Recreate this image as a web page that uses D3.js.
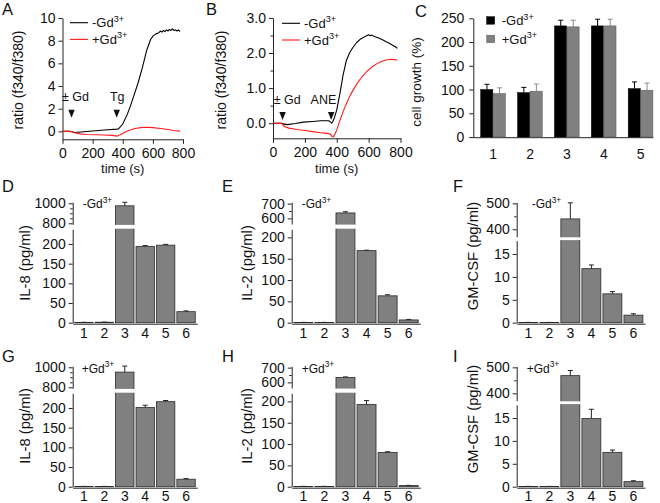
<!DOCTYPE html>
<html lang="en">
<head>
<meta charset="UTF-8">
<title>Gd3+ calcium traces and cytokines</title>
<script src="https://cdn.jsdelivr.net/npm/d3@7"></script>
<style>
  body { margin: 0; background: #fff; }
  svg { display: block; font-family: 'Liberation Sans', Arial, Helvetica, sans-serif; }
  .axis path, .axis line { stroke: #222; stroke-width: 1px; }
  .axis text { font-family: 'Liberation Sans', Arial, Helvetica, sans-serif; font-size: 14px; fill: #111; }
  .title { font-size: 13px; fill: #111; }
  .note { font-size: 12.5px; fill: #111; }
  .letter { font-size: 16.5px; fill: #111; }
  .tag { font-size: 12px; fill: #111; }
</style>
</head>
<body>
<script>
// ---- A: thapsigargin traces ----
const aBlackT = [0,40,60,80,120,200,280,360,372,400,430,450,470,500,530,560,585,600,620,640,650,660,670,680,690,700,710,720,730,740,750,760,770,780];
const aBlackV = [0,0,-0.02,-0.1,-0.06,0.03,0.12,0.2,0.22,0.65,1.5,2.2,3.0,4.2,5.6,7.2,8.1,8.4,8.6,8.7,8.85,8.75,8.9,8.8,8.95,8.85,9.0,8.9,9.05,8.9,8.95,8.85,8.95,8.8];
const aRedT = [0,50,60,80,120,160,220,280,330,365,380,410,440,480,520,560,600,650,700,740,780];
const aRedV = [0,0,-0.02,-0.12,-0.22,-0.28,-0.3,-0.32,-0.35,-0.42,-0.32,-0.1,0.08,0.25,0.33,0.36,0.33,0.25,0.16,0.08,0.02];

// ---- B: ANE traces ----
const bBlackT = [0,55,65,90,140,190,250,300,350,362,368,375,385,400,420,440,460,480,500,525,550,575,590,600,610,620,635,650,670,690,710,730,750,770,780];
const bBlackV = [0,0,-0.02,-0.04,-0.01,0.03,0.05,0.07,0.07,0.03,0.0,0.05,0.15,0.38,0.85,1.38,1.78,2.0,2.15,2.3,2.4,2.46,2.5,2.52,2.49,2.51,2.47,2.45,2.41,2.37,2.32,2.28,2.22,2.17,2.13];
const bRedT = [0,55,62,75,100,150,200,250,300,340,360,370,378,390,400,420,440,460,485,510,530,560,590,620,650,680,710,740,760,780];
const bRedV = [0,0,-0.05,-0.1,-0.14,-0.18,-0.21,-0.24,-0.27,-0.29,-0.31,-0.38,-0.39,-0.3,-0.19,0.08,0.33,0.55,0.8,1.0,1.15,1.33,1.48,1.6,1.69,1.76,1.8,1.82,1.81,1.8];

const timeTicks = [0, 200, 400, 600, 800];
const aYTicks = [0, 2, 4, 6, 8, 10];
const bYTicks = [0, 1, 2, 3];
const bYMinor = [0.5, 1.5, 2.5];
const aMarkers = [{ t: 60, text: "\u00b1 Gd" }, { t: 360, text: "Tg" }];
const bMarkers = [{ t: 60, text: "\u00b1 Gd" }, { t: 365, text: "ANE" }];

// ---- C: cell growth ----
const growthGroups = ["1", "2", "3", "4", "5"];
const growthMinus = [100, 93.5, 234, 234, 102];
const growthMinusErr = [11, 11, 12, 14, 14];
const growthPlus = [91.5, 96.5, 232, 234, 98.5];
const growthPlusErr = [12, 15, 14, 14, 15];
const growthTicks = [0, 50, 100, 150, 200, 250];

// ---- D-I: cytokines ----
const cytoGroups = ["1", "2", "3", "4", "5", "6"];
const il8Minus = [0.8, 1.2, 975, 194, 197, 28];
const il8MinusErr = [0.3, 0.3, 35, 2, 2, 2];
const il2Minus = [0.6, 0.6, 637, 169, 63, 6.5];
const il2MinusErr = [0.2, 0.2, 8, 1, 2.5, 1.2];
const gmMinus = [0.05, 0.05, 440, 11.8, 6.3, 1.65];
const gmMinusErr = [0.02, 0.02, 62, 0.8, 0.5, 0.3];
const il8Plus = [0.6, 0.6, 952, 201, 216, 19];
const il8PlusErr = [0.2, 0.2, 60, 6, 3, 1.5];
const il2Plus = [0.6, 0.6, 633, 193, 80.5, 2.5];
const il2PlusErr = [0.2, 0.2, 4, 9, 1.5, 0.6];
const gmPlus = [0.05, 0.05, 468, 14.9, 7.5, 1.1];
const gmPlusErr = [0.02, 0.02, 20, 2, 0.5, 0.2];

const il8LowTicks = [0, 50, 100, 150, 200], il8UpTicks = [800, 1000], il8UpMinor = [850, 900, 950];
const il2LowTicks = [0, 50, 100, 150, 200], il2UpTicks = [600, 700], il2UpMinor = [650];
const gmLowTicks = [0, 5, 10, 15], gmUpTicks = [400, 500], gmUpMinor = [450];

const svg = d3.select("body").append("svg").attr("width", 660).attr("height", 503);

function leftAxis(scale, x, major, minor, fmt, pad) {
  svg.append("g").attr("class", "axis").attr("transform", `translate(${x},0)`)
    .call(d3.axisLeft(scale).tickValues(major).tickSize(4).tickSizeOuter(0)
      .tickPadding(pad).tickFormat(fmt));
  if (minor && minor.length) {
    svg.append("g").attr("class", "axis").attr("transform", `translate(${x},0)`)
      .call(d3.axisLeft(scale).tickValues(minor).tickSize(2.5).tickFormat(""))
      .select(".domain").remove();
  }
}

function letter(txt, x, y) {
  svg.append("text").attr("class", "letter").attr("x", x).attr("y", y).text(txt);
}

function gdText(sel, sign, size) {
  sel.append("tspan").text(sign + "Gd");
  sel.append("tspan").attr("font-size", size * 0.7).attr("dy", -size * 0.42).text("3+");
}

function yTitle(txt, x, y, size) {
  svg.append("text").attr("class", "title").attr("text-anchor", "middle")
    .style("font-size", size + "px")
    .attr("transform", `translate(${x},${y}) rotate(-90)`).text(txt);
}

// ---------- trace panels ----------
function tracePanel(p) {
  const x = d3.scaleLinear([0, 800], [p.left, p.right]);
  const y = d3.scaleLinear(p.yDom, [p.bottom, p.top]);
  leftAxis(y, p.left, p.yTicks, p.yMinor, p.yFmt, 3);
  svg.append("g").attr("class", "axis").attr("transform", `translate(0,${p.bottom})`)
    .call(d3.axisBottom(x).tickValues(timeTicks).tickSize(4.5).tickSizeOuter(0).tickPadding(4.5));

  const line = d3.line().x(d => x(d[0])).y(d => y(d[1]));
  p.series.forEach(s => {
    svg.append("path").datum(d3.zip(s.t, s.v)).attr("d", line)
      .attr("fill", "none").attr("stroke", s.color).attr("stroke-width", 1.1)
      .attr("stroke-linejoin", "round");
  });

  // legend
  p.series.forEach((s, i) => {
    const ly = p.legY + i * 16.7;
    svg.append("line").attr("x1", p.legX).attr("x2", p.legX + 18)
      .attr("y1", ly).attr("y2", ly).attr("stroke", s.color).attr("stroke-width", 1.1);
    gdText(svg.append("text").attr("class", "title").attr("x", p.legX + 22).attr("y", ly + 4.5), s.sign, 13);
  });

  // stimulus markers
  p.markers.forEach((m, i) => {
    const mx = x(m.t), tip = y(p.tipV);
    svg.append("path").attr("d", `M${mx - 3.2},${tip - 8}L${mx + 3.2},${tip - 8}L${mx},${tip}Z`).attr("fill", "#111");
    svg.append("text").attr("class", "note").attr("text-anchor", "middle")
      .attr("x", mx + p.noteDx[i]).attr("y", tip - 16.5).text(m.text);
  });

  svg.append("text").attr("class", "title").attr("text-anchor", "middle")
    .attr("x", (p.left + p.right) / 2).attr("y", 173.3).text("time (s)");
  yTitle("ratio (f340/f380)", p.titleX, 80, 14);
}

tracePanel({
  left: 62.5, right: 183, bottom: 139.3, top: 18, yDom: [-0.7, 10],
  yTicks: aYTicks, yMinor: [], yFmt: d3.format("d"),
  series: [{ t: aBlackT, v: aBlackV, color: "#000", sign: "-" },
           { t: aRedT, v: aRedV, color: "#ff1a1a", sign: "+" }],
  legX: 70, legY: 22.7, markers: aMarkers, tipV: 1.2, noteDx: [4, 0.5], titleX: 23
});
tracePanel({
  left: 273, right: 400.5, bottom: 138.3, top: 17.9, yDom: [-0.43, 3.0],
  yTicks: bYTicks, yMinor: bYMinor, yFmt: d3.format(".1f"),
  series: [{ t: bBlackT, v: bBlackV, color: "#000", sign: "-" },
           { t: bRedT, v: bRedV, color: "#ff1a1a", sign: "+" }],
  legX: 282, legY: 23.3, markers: bMarkers, tipV: 0.09, noteDx: [4.7, -7.7], titleX: 226
});
letter("A", 2, 15);
letter("B", 206, 15);

// ---------- C: cell growth ----------
{
  const left = 473.3, right = 653.3, bottom = 137, top = 18.3;
  const x = d3.scaleBand(growthGroups, [left, right]).paddingInner(0.32).paddingOuter(0.1).align(1);
  const y = d3.scaleLinear([0, 250], [bottom, top]);
  leftAxis(y, left, growthTicks, [], d3.format("d"), 5);
  const xa = svg.append("g").attr("class", "axis").attr("transform", `translate(0,${bottom + 0.7})`)
    .call(d3.axisBottom(x).tickSize(0).tickPadding(11));
  xa.select(".domain").attr("d", `M${left},0H${right}`);
  const bw = x.bandwidth() / 2;
  const sets = [
    { v: growthMinus, e: growthMinusErr, off: 0, fill: "#000", stroke: "#000", err: "#000" },
    { v: growthPlus, e: growthPlusErr, off: bw, fill: "#808080", stroke: "#555", err: "#8a8a8a" }
  ];
  sets.forEach(s => {
    growthGroups.forEach((g, i) => {
      const bx = x(g) + s.off, cx = bx + bw / 2;
      svg.append("line").attr("x1", cx).attr("x2", cx).attr("y1", y(s.v[i])).attr("y2", y(s.v[i] + s.e[i]))
        .attr("stroke", s.err).attr("stroke-width", 1);
      svg.append("line").attr("x1", cx - 2.5).attr("x2", cx + 2.5)
        .attr("y1", y(s.v[i] + s.e[i])).attr("y2", y(s.v[i] + s.e[i])).attr("stroke", s.err).attr("stroke-width", 1);
      svg.append("rect").attr("x", bx).attr("width", bw - 0.4).attr("y", y(s.v[i]))
        .attr("height", y(0) - y(s.v[i])).attr("fill", s.fill).attr("stroke", s.stroke).attr("stroke-width", 0.5);
    });
  });
  // legend
  sets.forEach((s, i) => {
    const ly = 16.7 + i * 18.5;
    svg.append("rect").attr("x", 486.7).attr("y", ly).attr("width", 8).attr("height", 7.5)
      .attr("fill", s.fill).attr("stroke", s.stroke).attr("stroke-width", 0.5);
    gdText(svg.append("text").attr("class", "title").attr("x", 501.7).attr("y", ly + 8.5), i === 0 ? "-" : "+", 13);
  });
  yTitle("cell growth (%)", 421, 82, 13.5);
  letter("C", 415, 16.5);
}

// ---------- D-I: cytokine bars with broken axis ----------
function barPanel(p) {
  const off = p.off;
  const yLow = d3.scaleLinear(p.lowDom, [322.7 + off, p.lowTop + off]);
  const yUp = d3.scaleLinear(p.upDom, [p.upBot + off, 202.3 + off]);
  const x = d3.scaleBand(cytoGroups, [p.left, p.right]).paddingInner(0.1).paddingOuter(0.1);

  leftAxis(yLow, p.left, p.lowTicks, [], d3.format("d"), 3);
  leftAxis(yUp, p.left, p.upTicks, p.upMinor, d3.format("d"), 3);
  svg.append("g").attr("class", "axis").attr("transform", `translate(0,${323.7 + off})`)
    .call(d3.axisBottom(x).tickSize(0).tickSizeOuter(0).tickPadding(off ? 3 : 4.5));

  const lowMax = p.lowDom[1];
  p.vals.forEach((v, i) => {
    const bx = x(cytoGroups[i]), bw = x.bandwidth(), cx = bx + bw / 2;
    const broken = v > lowMax;
    const top = broken ? yUp(v) : yLow(v);
    const errTop = broken ? yUp(v + p.errs[i]) : yLow(v + p.errs[i]);
    svg.append("line").attr("x1", cx).attr("x2", cx).attr("y1", top).attr("y2", errTop)
      .attr("stroke", "#222").attr("stroke-width", 1);
    svg.append("line").attr("x1", cx - 2.5).attr("x2", cx + 2.5).attr("y1", errTop).attr("y2", errTop)
      .attr("stroke", "#222").attr("stroke-width", 1);
    svg.append("rect").attr("x", bx).attr("width", bw).attr("y", top).attr("height", yLow(0) - top)
      .attr("fill", "#808080").attr("stroke", "#2a2a2a").attr("stroke-width", 0.8);
    if (broken) {
      svg.append("rect").attr("x", bx - 1).attr("width", bw + 2)
        .attr("y", p.upBot + off + 0.6).attr("height", p.lowTop - p.upBot - 1.2).attr("fill", "#fff");
    }
  });

  gdText(svg.append("text").attr("class", "tag").attr("x", p.left + p.tagDx).attr("y", (off ? 372.5 : 208)), p.sign, 12);
  yTitle(p.title, p.titleX, (p.titleY || 263) + (off ? 163 : 0), 14.8);
  letter(p.letter, p.letterX, off ? 361.5 : 192);
}

const il8Axis = { lowDom: [0, 237.3], upDom: [790, 1010], lowTop: 229.3, upBot: 224.3,
  lowTicks: il8LowTicks, upTicks: il8UpTicks, upMinor: il8UpMinor, title: "IL-8 (pg/ml)" };
const il2Axis = { lowDom: [0, 219], upDom: [562, 709], lowTop: 229.3, upBot: 224,
  lowTicks: il2LowTicks, upTicks: il2UpTicks, upMinor: il2UpMinor, title: "IL-2 (pg/ml)" };
const gmAxis = { lowDom: [0, 17.9], upDom: [371.5, 504], lowTop: 240.7, upBot: 236.7,
  lowTicks: gmLowTicks, upTicks: gmUpTicks, upMinor: gmUpMinor, title: "GM-CSF (pg/ml)", titleY: 256 };

const colD = { left: 72.7, right: 197.3, titleX: 30, letterX: 2 };
const colE = { left: 291.7, right: 420.3, titleX: 252, letterX: 222 };
const colF = { left: 516.7, right: 645, titleX: 478, letterX: 453 };

barPanel({ ...il8Axis, ...colD, off: 0, vals: il8Minus, errs: il8MinusErr, sign: "-", tagDx: 10, letter: "D" });
barPanel({ ...il2Axis, ...colE, off: 0, vals: il2Minus, errs: il2MinusErr, sign: "-", tagDx: 10, letter: "E" });
barPanel({ ...gmAxis, ...colF, off: 0, vals: gmMinus, errs: gmMinusErr, sign: "-", tagDx: 15, letter: "F" });
barPanel({ ...il8Axis, ...colD, off: 164, vals: il8Plus, errs: il8PlusErr, sign: "+", tagDx: 9, letter: "G" });
barPanel({ ...il2Axis, ...colE, off: 164, vals: il2Plus, errs: il2PlusErr, sign: "+", tagDx: 10, letter: "H" });
barPanel({ ...gmAxis, ...colF, off: 164, vals: gmPlus, errs: gmPlusErr, sign: "+", tagDx: 10, letter: "I" });
</script>
</body>
</html>
